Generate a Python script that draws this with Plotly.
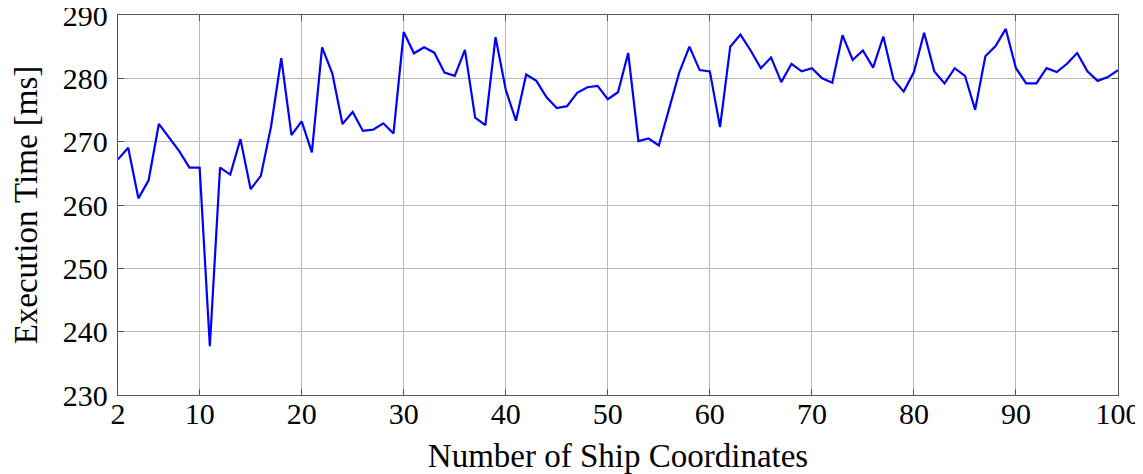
import plotly.graph_objects as go

ship_coords = list(range(2, 101))
exec_time_ms = [
    267.2, 269.05, 261.05, 263.9, 272.8, 270.7, 268.5, 265.9, 265.9, 237.7,
    265.9, 264.8, 270.4, 262.5, 264.6, 272.4, 283.2, 271.05, 273.2, 268.3,
    284.9, 280.8, 272.8, 274.7, 271.7, 271.9, 272.9, 271.3, 287.3, 283.95,
    284.9, 284.05, 280.9, 280.4, 284.5, 273.8, 272.6, 286.5, 278.2, 273.3,
    280.6, 279.6, 277.0, 275.3, 275.6, 277.7, 278.6, 278.8, 276.7, 277.8,
    284.0, 270.1, 270.5, 269.4, 275.0, 280.9, 285.0, 281.3, 281.1, 272.3,
    285.0, 286.9, 284.4, 281.6, 283.3, 279.4, 282.3, 281.1, 281.6, 280.0,
    279.3, 286.8, 282.9, 284.4, 281.7, 286.6, 279.8, 277.9, 281.0, 287.2,
    281.1, 279.2, 281.6, 280.4, 275.05, 283.5, 285.1, 287.8, 281.6, 279.2,
    279.2, 281.6, 281.0, 282.3, 284.0, 281.1, 279.6, 280.2, 281.3,
]
x_ticks = [2, 10, 20, 30, 40, 50, 60, 70, 80, 90, 100]
y_ticks = [230, 240, 250, 260, 270, 280, 290]

font_family = "Liberation Serif"

fig = go.Figure()
fig.add_trace(go.Scatter(
    x=ship_coords, y=exec_time_ms, mode="lines",
    line=dict(color="#0000ff", width=2.2), showlegend=False,
))

axis_common = dict(
    showgrid=True, gridcolor="#b8b8b8", gridwidth=1,
    showline=True, linecolor="#555555", linewidth=1.3, mirror="allticks",
    ticks="inside", ticklen=6, tickcolor="#555555", tickwidth=1.3,
    zeroline=False, automargin=False, ticklabeloverflow="allow",
    tickfont=dict(family=font_family, size=30, color="black"),
)

fig.update_layout(
    width=1135, height=466,
    margin=dict(l=110, r=25, t=7, b=79),
    paper_bgcolor="white", plot_bgcolor="white",
    font=dict(family=font_family, color="black"),
    xaxis=dict(range=[2, 100], tickvals=x_ticks, ticktext=[str(v) for v in x_ticks],
               ticklabelstandoff=-8,
               title=dict(text="Number of Ship Coordinates", font=dict(family=font_family, size=33), standoff=15),
               **axis_common),
    yaxis=dict(range=[230, 290], tickvals=y_ticks, ticktext=[str(v) for v in y_ticks],
               ticklabelstandoff=3,
               title=dict(text="Execution Time [ms]", font=dict(family=font_family, size=33), standoff=26),
               **axis_common),
)

fig.write_html("out.html")
